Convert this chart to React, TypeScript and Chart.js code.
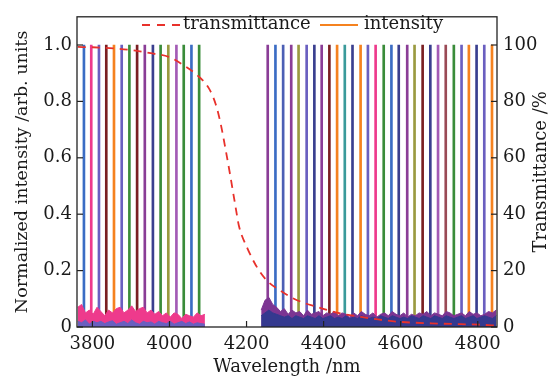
import { useEffect, useRef } from "react";
import { Chart, registerables } from "chart.js";

Chart.register(...registerables);

// ---- data ----
const xTicks = [3800, 4000, 4200, 4400, 4600, 4800];
const yTicks = [0, 0.2, 0.4, 0.6, 0.8, 1.0];
const yTickLabels = ["0", "0.2", "0.4", "0.6", "0.8", "1.0"];
const y1Ticks = [0, 20, 40, 60, 80, 100];

const leftPeaks = [3778, 3797, 3817, 3836, 3856, 3876, 3896, 3916, 3936, 3957, 3977, 3997, 4018, 4037, 4057, 4077];
const leftPeakColors = ["#3b6cc4", "#ee3a8c", "#6a5fc0", "#7a1f22", "#f5821f", "#6a5fc0", "#3a8c3a", "#7a1f22", "#8a3d96", "#3a3f8f", "#3a8c3a", "#9a9a40", "#a35bb5", "#3a8c3a", "#3b6cc4", "#3a8c3a"];

const rightPeaks = [4255, 4275, 4295, 4316, 4335, 4356, 4376, 4395, 4415, 4435, 4455, 4475, 4496, 4515, 4535, 4556, 4576, 4595, 4617, 4636, 4657, 4677, 4697, 4717, 4738, 4758, 4777, 4797, 4817, 4837];
const rightPeakColors = ["#8a3d96", "#3b6cc4", "#4c5fb5", "#8a3d96", "#9a9a40", "#6a5fc0", "#3a3f8f", "#8a3d96", "#7a1f22", "#f5821f", "#3a9a9a", "#3a3f8f", "#f5821f", "#6a5fc0", "#ee3a8c", "#3a8c3a", "#3b6cc4", "#3a3f8f", "#8a3d96", "#9a9a40", "#7a1f22", "#3a3f8f", "#a35bb5", "#9a4a55", "#3a8c3a", "#6a5fc0", "#f5821f", "#3a3f8f", "#6a5fc0", "#f5821f"];
const peakIntensity = 1.0;

const leftNoiseStart = 3762;
const rightNoiseStart = 4238;
const noiseStep = 10;
const leftPinkNoise = [0.07, 0.08, 0.05, 0.06, 0.045, 0.07, 0.055, 0.04, 0.06, 0.05, 0.065, 0.07, 0.05, 0.06, 0.075, 0.055, 0.065, 0.07, 0.05, 0.06, 0.045, 0.055, 0.04, 0.05, 0.035, 0.05, 0.045, 0.03, 0.045, 0.04, 0.035, 0.05, 0.04, 0.045];
const leftBlueNoise = [0.02, 0.015, 0.025, 0.01, 0.02, 0.015, 0.02, 0.012, 0.018, 0.022, 0.01, 0.015, 0.02, 0.012, 0.025, 0.015, 0.01, 0.02, 0.015, 0.018, 0.01, 0.02, 0.015, 0.012, 0.02, 0.01, 0.015, 0.02, 0.012, 0.018, 0.01, 0.015, 0.012, 0.01];
const rightPurpleNoise = [0.06, 0.095, 0.105, 0.08, 0.07, 0.055, 0.065, 0.045, 0.06, 0.05, 0.055, 0.04, 0.06, 0.045, 0.05, 0.055, 0.04, 0.05, 0.045, 0.055, 0.04, 0.05, 0.045, 0.035, 0.05, 0.04, 0.055, 0.045, 0.04, 0.05, 0.035, 0.045, 0.05, 0.04, 0.055, 0.045, 0.04, 0.05, 0.035, 0.045, 0.04, 0.05, 0.045, 0.055, 0.04, 0.05, 0.045, 0.04, 0.055, 0.05, 0.04, 0.045, 0.05, 0.04, 0.055, 0.045, 0.05, 0.04, 0.045, 0.055, 0.05, 0.06];
const rightNavyNoise = [0.04, 0.05, 0.06, 0.05, 0.045, 0.04, 0.035, 0.04, 0.03, 0.04, 0.035, 0.03, 0.04, 0.035, 0.03, 0.04, 0.03, 0.035, 0.04, 0.03, 0.035, 0.03, 0.04, 0.03, 0.035, 0.03, 0.04, 0.035, 0.03, 0.035, 0.03, 0.04, 0.035, 0.03, 0.04, 0.035, 0.03, 0.035, 0.03, 0.04, 0.035, 0.03, 0.04, 0.035, 0.03, 0.04, 0.035, 0.03, 0.04, 0.035, 0.03, 0.035, 0.04, 0.03, 0.035, 0.04, 0.03, 0.035, 0.04, 0.035, 0.03, 0.04];

const transWavelength = [3762, 3800, 3855, 3912, 3955, 3998, 4037, 4072, 4102, 4120, 4133, 4146, 4158, 4171, 4180, 4202, 4228, 4254, 4288, 4323, 4383, 4444, 4496, 4556, 4600, 4703, 4807, 4850];
const transValues = [99.3, 99.2, 98.8, 98, 97, 95.8, 92.8, 89.3, 84.7, 79, 72, 62.7, 53.5, 43, 36, 28, 21, 16.3, 12.9, 10, 7.1, 4.8, 3.6, 2.4, 1.8, 1.2, 0.8, 0.5];

const FONT = "'DejaVu Serif', serif";
const TXT = "#1a1a1a";
const TICK_SIZE = 18;
const TITLE_SIZE = 18;

const framePlugin = {
  id: "frameTicksLegend",
  afterDatasetsDraw(chart: any) {
    const { ctx, chartArea, scales } = chart;
    const { left, right, top, bottom } = chartArea;
    ctx.save();
    ctx.strokeStyle = "#222";
    ctx.lineWidth = 1.3;
    ctx.setLineDash([]);
    ctx.strokeRect(left, top, right - left, bottom - top);
    ctx.lineWidth = 1.2;
    const seg = (x1: number, y1: number, x2: number, y2: number) => {
      ctx.beginPath();
      ctx.moveTo(x1, y1);
      ctx.lineTo(x2, y2);
      ctx.stroke();
    };
    scales.x.ticks.forEach((t: any) => {
      const px = scales.x.getPixelForValue(t.value);
      seg(px, bottom, px, bottom - 6);
    });
    scales.y.ticks.forEach((t: any) => {
      const py = scales.y.getPixelForValue(t.value);
      seg(left, py, left + 6, py);
    });
    scales.y1.ticks.forEach((t: any) => {
      const py = scales.y1.getPixelForValue(t.value);
      seg(right, py, right - 6, py);
    });
    // legend
    const ly = 25;
    ctx.strokeStyle = "#e8312b";
    ctx.lineWidth = 1.8;
    ctx.setLineDash([8, 7]);
    seg(142, ly, 180, ly);
    ctx.setLineDash([]);
    ctx.strokeStyle = "#f5821f";
    seg(320, ly, 358, ly);
    ctx.fillStyle = TXT;
    ctx.font = `${TITLE_SIZE}px ${FONT}`;
    ctx.textBaseline = "middle";
    ctx.textAlign = "left";
    ctx.fillText("transmittance", 183, ly - 1);
    ctx.fillText("intensity", 364, ly - 1);
    // right axis title, reading bottom-to-top
    ctx.save();
    ctx.translate(541.5, (top + bottom) / 2);
    ctx.rotate(-Math.PI / 2);
    ctx.textAlign = "center";
    ctx.textBaseline = "middle";
    ctx.fillText("Transmittance /%", 0, 0);
    ctx.restore();
    ctx.restore();
  },
};

export default function App() {
  const ref = useRef<HTMLCanvasElement | null>(null);
  useEffect(() => {
    if (!ref.current) return;
    const peaks = [
      ...leftPeaks.map((x) => ({ x, y: peakIntensity })),
      ...rightPeaks.map((x) => ({ x, y: peakIntensity })),
    ];
    const peakColors = [...leftPeakColors, ...rightPeakColors];
    const series = (start: number, vals: number[]) => vals.map((y, i) => ({ x: start + i * noiseStep, y }));
    const noiseDs = (label: string, data: any[], color: string, order: number) => ({
      type: "line" as const,
      label,
      data,
      borderColor: color,
      backgroundColor: color,
      borderWidth: 1,
      pointRadius: 0,
      fill: "origin",
      tension: 0,
      yAxisID: "y",
      order,
    });
    const chart = new Chart(ref.current, {
      type: "line",
      data: {
        datasets: [
          {
            type: "line",
            label: "transmittance",
            data: transWavelength.map((x, i) => ({ x, y: transValues[i] })),
            borderColor: "#e8312b",
            borderDash: [8, 6],
            borderWidth: 1.8,
            pointRadius: 0,
            fill: false,
            cubicInterpolationMode: "monotone",
            yAxisID: "y1",
            order: 0,
          },
          noiseDs("left-blue", series(leftNoiseStart, leftBlueNoise), "#6a5fc0", 1),
          noiseDs("left-pink", series(leftNoiseStart, leftPinkNoise), "#ee3a8c", 2),
          noiseDs("right-navy", series(rightNoiseStart, rightNavyNoise), "#34398f", 1),
          noiseDs("right-purple", series(rightNoiseStart, rightPurpleNoise), "#7c3592", 2),
          {
            type: "bar",
            label: "intensity",
            data: peaks,
            backgroundColor: peakColors,
            borderWidth: 0,
            barThickness: 2,
            grouped: false,
            yAxisID: "y",
            order: 3,
          } as any,
        ],
      },
      options: {
        animation: false,
        responsive: true,
        maintainAspectRatio: false,
        layout: { padding: { top: 11, left: 0, right: 0, bottom: 0 } },
        plugins: { legend: { display: false }, tooltip: { enabled: false } },
        scales: {
          x: {
            type: "linear",
            min: 3760,
            max: 4850,
            offset: false,
            afterBuildTicks: (s: any) => {
              s.ticks = xTicks.map((v) => ({ value: v }));
            },
            afterFit: (s: any) => {
              s.height = 51;
            },
            grid: { display: false, drawTicks: false },
            border: { display: false },
            ticks: {
              font: { family: FONT, size: TICK_SIZE },
              color: TXT,
              padding: 7,
              maxRotation: 0,
              autoSkip: false,
              callback: (v: any) => String(v),
            },
            title: {
              display: true,
              text: "Wavelength /nm",
              font: { family: FONT, size: TITLE_SIZE },
              color: TXT,
              padding: { top: 0, bottom: 0 },
            },
          },
          y: {
            type: "linear",
            position: "left",
            min: 0,
            max: 1.1,
            afterBuildTicks: (s: any) => {
              s.ticks = yTicks.map((v) => ({ value: v }));
            },
            afterFit: (s: any) => {
              s.width = 77;
            },
            grid: { display: false, drawTicks: false },
            border: { display: false },
            ticks: {
              font: { family: FONT, size: TICK_SIZE },
              color: TXT,
              padding: 5,
              callback: (v: any) => {
                const i = yTicks.indexOf(v);
                return i >= 0 ? yTickLabels[i] : "";
              },
            },
            title: {
              display: true,
              text: "Normalized intensity /arb. units",
              font: { family: FONT, size: 17.5 },
              color: TXT,
              padding: { top: 11.5, bottom: 0 },
            },
          },
          y1: {
            type: "linear",
            position: "right",
            min: 0,
            max: 110,
            afterBuildTicks: (s: any) => {
              s.ticks = y1Ticks.map((v) => ({ value: v }));
            },
            afterFit: (s: any) => {
              s.width = 57;
            },
            grid: { display: false, drawTicks: false },
            border: { display: false },
            ticks: {
              font: { family: FONT, size: TICK_SIZE },
              color: TXT,
              padding: 6,
              callback: (v: any) => String(v),
            },
          },
        },
      } as any,
      plugins: [framePlugin],
    });
    return () => chart.destroy();
  }, []);
  return (
    <div style={{ position: "fixed", left: 0, top: 0, width: 554, height: 378, background: "#fff" }}>
      <canvas ref={ref} />
    </div>
  );
}
